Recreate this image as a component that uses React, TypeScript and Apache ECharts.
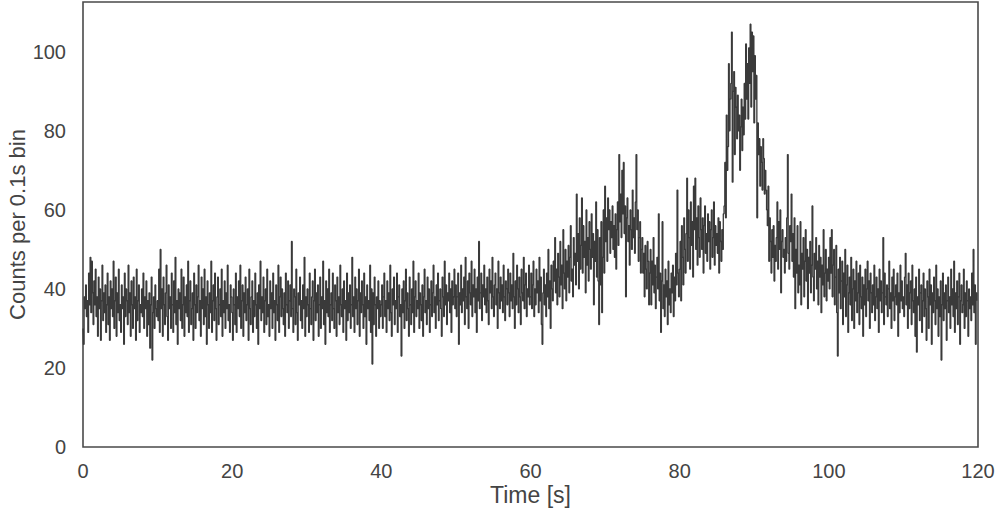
import React, { useEffect, useRef } from "react";
import * as echarts from "echarts";

// Counts per 0.1 s bin, one array per 10 s segment (100 bins each)
const seg000 = [30,26,38,35,41,33,37,29,44,36,48,34,47,39,31,42,36,45,33,38,28,43,35,40,27,37,46,32,39,34,41,29,36,44,31,38,27,42,35,40,33,47,30,37,43,28,39,34,45,32,36,29,41,35,38,26,44,33,40,37,31,46,34,39,28,42,36,30,43,35,38,27,45,32,37,41,29,36,34,40,33,44,30,38,35,42,28,37,31,39,25,36,43,22,34,38,30,41,35,33];
const seg010 = [37,32,45,29,50,35,40,28,43,36,31,39,46,33,27,41,35,38,30,44,36,29,42,34,48,31,37,26,40,35,39,32,45,30,36,43,28,38,34,41,33,47,29,37,42,31,35,39,27,44,36,30,41,34,38,46,32,37,28,43,35,40,31,45,33,38,26,42,36,30,39,34,47,29,37,41,32,44,35,27,38,43,31,36,40,33,45,28,37,34,42,30,39,35,46,32,36,29,41,38];
const seg020 = [34,27,40,36,31,44,29,38,35,42,33,46,30,37,41,28,39,34,43,32,36,40,27,45,35,31,38,42,29,37,33,44,36,30,39,26,41,35,47,32,38,34,43,29,37,40,31,45,33,36,28,42,35,39,30,44,34,37,27,41,36,32,46,29,38,43,33,40,35,31,39,28,44,36,34,42,30,37,41,33,52,35,29,40,38,31,45,34,27,39,36,43,32,37,30,41,35,48,28,38];
const seg030 = [33,40,36,29,44,35,31,38,42,27,37,45,32,39,34,41,28,36,43,30,38,35,47,31,37,26,42,34,40,33,45,29,36,39,32,44,35,30,41,37,28,43,34,38,31,46,36,33,40,29,42,35,37,27,44,32,39,34,41,30,36,48,33,38,29,43,35,40,31,37,45,28,39,34,42,36,30,44,33,38,26,41,35,37,32,46,29,40,21,39,31,43,36,28,38,35,42,30,37,33];
const seg040 = [36,41,30,38,44,33,37,29,42,35,39,32,46,34,28,40,36,43,31,37,35,44,29,38,41,33,36,23,40,34,42,30,37,45,32,39,35,28,43,36,31,40,34,47,29,38,42,33,37,35,44,30,39,36,32,41,28,38,45,34,37,31,43,35,40,29,36,42,33,39,46,34,38,30,41,36,44,32,37,40,35,28,43,38,33,47,36,41,31,39,37,44,34,40,29,42,36,38,45,35];
const seg050 = [41,33,38,44,26,39,36,46,34,40,37,43,31,48,38,35,42,30,44,39,36,47,33,41,38,45,34,40,29,43,37,52,35,39,44,32,41,38,46,36,40,34,43,37,31,45,39,42,35,48,38,33,41,44,36,40,30,47,39,35,43,37,41,34,46,38,32,42,40,36,45,39,33,44,37,41,35,49,38,30,42,36,46,40,34,43,38,31,45,39,37,48,35,41,44,33,40,38,46,36];
const seg060 = [38,44,35,41,47,33,40,36,45,39,42,34,48,37,43,31,26,39,45,36,41,33,44,38,50,35,42,30,46,40,37,47,42,53,39,45,36,49,43,38,52,41,46,35,55,44,40,50,37,47,43,51,39,48,56,42,45,38,53,46,49,41,64,47,54,40,58,45,51,63,44,56,48,52,39,60,46,53,42,57,50,45,59,48,54,36,52,47,62,43,55,42,31,53,41,57,34,48,60,44];
const seg070 = [66,52,58,47,63,55,60,49,57,53,61,50,56,48,59,45,55,62,51,74,57,64,53,70,59,72,54,61,38,58,63,52,56,46,60,55,50,65,53,58,49,62,74,55,60,47,53,57,44,50,53,44,49,38,51,45,40,52,47,36,44,50,36,47,41,53,39,46,35,43,48,40,59,37,44,29,42,57,35,41,33,45,38,42,31,47,36,40,34,44,39,46,33,43,37,49,41,65,44,38];
const seg080 = [45,52,37,56,48,41,58,50,44,54,68,47,60,53,45,62,51,57,43,66,55,68,50,58,46,61,53,48,63,55,50,58,44,56,61,49,54,47,59,52,57,45,55,60,48,53,62,46,56,51,54,49,58,44,57,52,47,55,50,59,61,72,58,84,70,76,97,80,88,92,105,67,90,95,74,91,86,78,89,80,84,70,81,88,75,86,79,92,83,102,88,97,83,101,92,107,86,105,95,104];
const seg090 = [82,99,88,94,58,82,74,78,66,76,72,65,78,73,64,70,65,60,56,66,47,58,52,44,55,48,56,42,51,47,53,62,45,57,50,60,39,52,55,48,50,44,53,47,58,74,49,45,56,52,64,47,54,43,58,35,50,44,56,39,46,41,57,36,49,45,53,38,47,55,42,50,35,48,44,52,39,46,61,43,37,49,45,53,40,47,36,51,43,48,34,46,41,55,38,44,50,37,45,42];
const seg100 = [48,40,53,44,55,38,46,50,36,43,51,34,23,45,39,48,35,42,47,31,44,38,50,33,41,46,29,39,43,36,48,32,40,45,30,42,37,47,34,39,44,31,46,38,35,43,28,41,36,45,33,40,47,37,42,30,44,39,34,41,36,46,32,38,43,35,40,29,45,37,42,34,39,53,31,44,38,36,41,33,40,47,35,39,30,43,37,45,32,38,41,36,44,28,39,34,46,37,42,35];
const seg110 = [38,33,43,49,36,41,30,44,35,39,42,31,46,37,34,40,28,43,24,38,36,45,32,39,41,29,37,44,33,40,35,27,42,38,30,45,36,41,26,39,34,43,37,31,46,35,40,28,38,33,42,22,36,44,32,39,35,41,27,37,43,34,38,30,45,36,40,33,47,29,39,35,42,31,38,44,26,37,41,34,36,45,30,39,33,42,37,28,40,35,38,32,44,36,50,34,41,26,39,37];

const segments = [seg000, seg010, seg020, seg030, seg040, seg050, seg060, seg070, seg080, seg090, seg100, seg110];
const binWidth = 0.1;
const yTicks = [0, 20, 40, 60, 80, 100];
const xTicks = [0, 20, 40, 60, 80, 100, 120];

const TEXT = "#444444";
const FONT = "Liberation Sans, Arial, sans-serif";

export default function App() {
  const ref = useRef<HTMLDivElement>(null);
  useEffect(() => {
    if (!ref.current) return;
    const chart = echarts.init(ref.current, undefined, { renderer: "svg" });
    const counts = segments.flat();
    const data = counts.map((v, i) => [i * binWidth, v]);
    chart.setOption({
      animation: false,
      grid: {
        left: 83,
        right: 18,
        top: 2,
        bottom: 66,
        show: true,
        outerBoundsMode: "none",
        containLabel: false,
        borderColor: "#4a4a4a",
        borderWidth: 1.6,
        backgroundColor: "#ffffff",
      },
      xAxis: {
        type: "value",
        min: 0,
        max: 120,
        interval: 20,
        name: "Time [s]",
        nameLocation: "middle",
        nameGap: 36,
        nameMoveOverlap: false,
        nameTextStyle: { color: TEXT, fontSize: 23, fontFamily: FONT },
        axisLine: { show: false },
        axisTick: { show: false },
        splitLine: { show: false },
        axisLabel: {
          color: TEXT,
          fontSize: 20,
          fontFamily: FONT,
          margin: 14,
          formatter: (v: number) => (xTicks.includes(v) ? String(v) : ""),
        },
      },
      yAxis: {
        type: "value",
        min: 0,
        max: 112.6,
        interval: 20,
        name: "Counts per 0.1s bin",
        nameLocation: "middle",
        nameGap: 55,
        nameMoveOverlap: false,
        nameTextStyle: { color: TEXT, fontSize: 22, fontFamily: FONT },
        axisLine: { show: false },
        axisTick: { show: false },
        splitLine: { show: false },
        axisLabel: {
          color: TEXT,
          fontSize: 20,
          fontFamily: FONT,
          margin: 17,
          showMaxLabel: false,
          formatter: (v: number) => (yTicks.includes(v) ? String(v) : ""),
        },
      },
      series: [
        {
          type: "line",
          data,
          step: "middle",
          showSymbol: false,
          symbol: "none",
          lineStyle: { color: "#3a3a3a", width: 1.3 },
          z: 1,
        },
      ],
    });
    return () => chart.dispose();
  }, []);
  return (
    <div
      ref={ref}
      style={{ position: "absolute", left: 0, top: 0, width: 996, height: 513 }}
    />
  );
}
